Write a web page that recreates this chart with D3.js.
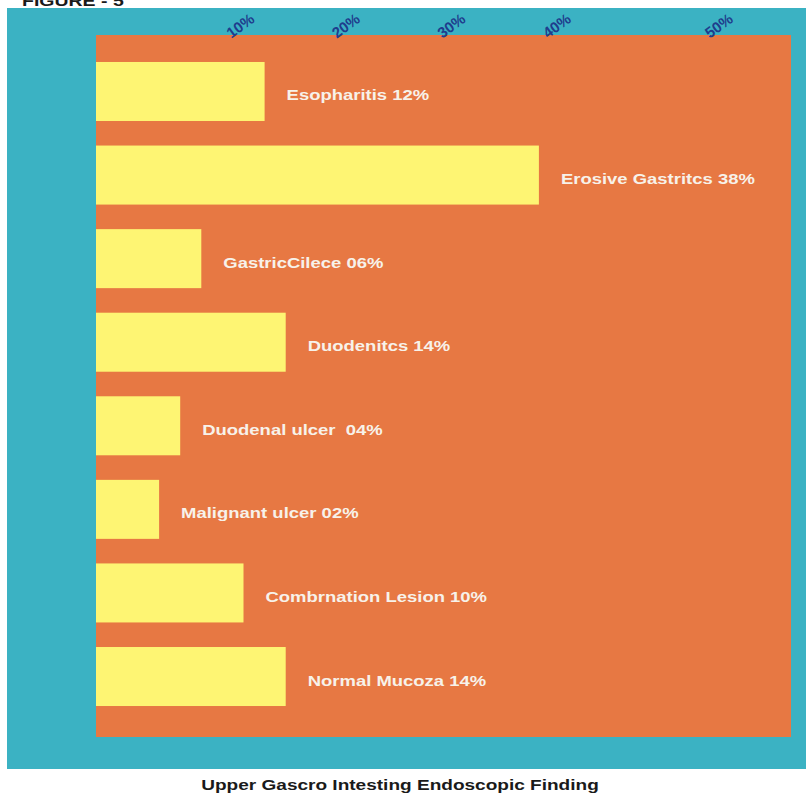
<!DOCTYPE html>
<html>
<head>
<meta charset="utf-8">
<script src="https://cdn.jsdelivr.net/npm/d3@7"></script>
<style>
  html, body { margin: 0; padding: 0; background: #ffffff; }
  svg { display: block; }
  text { font-family: "Liberation Sans", Arial, sans-serif; font-weight: bold; }
</style>
</head>
<body>
<svg id="chart" width="806" height="798"></svg>
<script>
// Endoscopic findings and their share of cases (%)
const findings = [
  "Esopharitis",
  "Erosive Gastritcs",
  "GastricCilece",
  "Duodenitcs",
  "Duodenal ulcer ",
  "Malignant ulcer",
  "Combrnation Lesion",
  "Normal Mucoza"
];
const percents = [12, 38, 6, 14, 4, 2, 10, 14];
const tickValues = [10, 20, 30, 40, 50];
const tickLabels = ["10%", "20%", "30%", "40%", "50%"];

const figureLabel = "FIGURE - 5";
const chartTitle = "Upper Gascro Intesting Endoscopic Finding";

const colors = {
  frame: "#3bb2c3",
  plot: "#e77843",
  bar: "#fef573",
  label: "#f7f2ea",
  tick: "#1f3d8d",
  title: "#1a1a1a"
};

const svg = d3.select("#chart");

// outer teal frame and orange plotting panel
const frame = { left: 7, top: 8, right: 806, bottom: 769 };
const plot = { left: 96, top: 35, right: 791, bottom: 737 };

svg.append("rect")
  .attr("x", frame.left).attr("y", frame.top)
  .attr("width", frame.right - frame.left)
  .attr("height", frame.bottom - frame.top)
  .attr("fill", colors.frame);

svg.append("rect")
  .attr("x", plot.left).attr("y", plot.top)
  .attr("width", plot.right - plot.left)
  .attr("height", plot.bottom - plot.top)
  .attr("fill", colors.plot);

// value axis: bars grow from the panel edge; the zero point sits slightly inside it
const x = d3.scaleLinear()
  .domain([0, 40, 50])
  .range([plot.left + 42, 560, 722]);

const y = d3.scaleBand()
  .domain(findings)
  .range([49.7, 718.3])
  .paddingInner(0.294)
  .paddingOuter(0.147);

const rows = findings.map((name, i) => ({ name, value: percents[i] }));
const fmt = d3.format("02d");

svg.append("g")
  .selectAll("rect")
  .data(rows)
  .join("rect")
  .attr("x", plot.left)
  .attr("y", d => y(d.name))
  .attr("width", d => x(d.value) - plot.left)
  .attr("height", y.bandwidth())
  .attr("fill", colors.bar);

// value labels to the right of each bar
svg.append("g")
  .selectAll("text")
  .data(rows)
  .join("text")
  .attr("transform", d => `translate(${x(d.value) + 22},${y(d.name) + y.bandwidth() / 2 + 9}) scale(1.32,1)`)
  .attr("fill", colors.label)
  .attr("font-size", 14)
  .style("white-space", "pre")
  .text(d => `${d.name} ${fmt(d.value)}%`);

// rotated percentage ticks along the top
svg.append("g")
  .selectAll("text")
  .data(tickValues)
  .join("text")
  .attr("transform", d => `translate(${x(d)},${30}) rotate(-36)`)
  .attr("text-anchor", "middle")
  .attr("fill", colors.tick)
  .attr("font-size", 15)
  .text((d, i) => tickLabels[i]);

// figure caption (partly clipped at the top edge) and chart title
svg.append("text")
  .attr("transform", "translate(22,6) scale(1.3,1)")
  .attr("fill", colors.title)
  .attr("font-size", 15)
  .text(figureLabel);

svg.append("text")
  .attr("transform", "translate(400,790) scale(1.27,1)")
  .attr("text-anchor", "middle")
  .attr("fill", colors.title)
  .attr("font-size", 15)
  .text(chartTitle);
</script>
</body>
</html>
